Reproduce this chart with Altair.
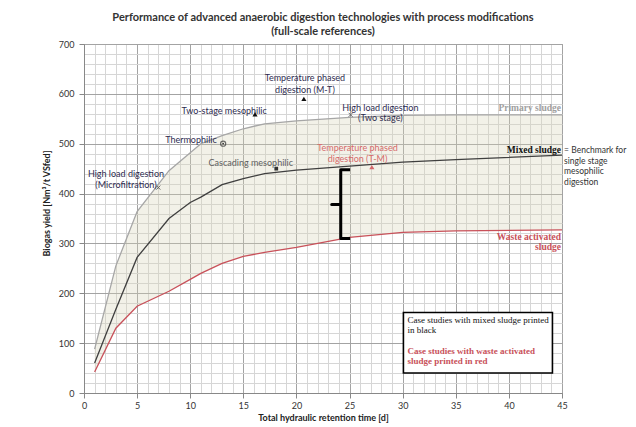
import altair as alt
import pandas as pd

# ---------------- data ----------------
days = [1, 3, 5, 8, 10, 11, 13, 15, 17, 20, 25, 30, 35, 45]
primary = [88, 255, 364, 446, 482, 500, 516, 530, 540, 546, 553, 557, 558, 558]
mixed = [60, 168, 272, 350, 382, 393, 418, 430, 440, 447, 455, 463, 468, 477]
was = [42, 130, 174, 204, 228, 240, 260, 274, 282, 292, 312, 322, 325, 327]

x_ticks = list(range(0, 46))
y_ticks = list(range(0, 701, 20))

# case-study markers
cross_x, cross_y = [7.0, 25.1], [412, 558]
circle_x, circle_y = [13.1], [500]
tri_x, tri_y = [16.1, 20.7], [559, 590]
square_x, square_y = [18.1], [450]
tri_red_x, tri_red_y = [27.1], [453]

# annotation labels
tech_text = ["High load digestion", "(Microfiltration)", "Thermophilic",
             "Two-stage mesophilic", "Temperature phased", "digestion (M-T)",
             "High load digestion", "(Two stage)"]
tech_x = [3.95, 3.95, 12.5, 13.2, 20.8, 20.8, 27.9, 27.9]
tech_y = [440, 418, 508, 566, 631, 608, 572, 552]
tech_align = ["center", "center", "right", "center", "center", "center", "center", "center"]

casc_text, casc_x, casc_y = ["Cascading mesophilic"], [15.7], [462]
tm_text = ["Temperature phased", "digestion (T-M)"]
tm_x, tm_y = [25.75, 25.75], [491, 470]

sludge_text = ["Primary sludge", "Mixed sludge", "Waste activated", "sludge"]
sludge_y = [572, 488, 313, 293]
sludge_col = ["primary", "mixed", "was", "was"]

bench_text = ["= Benchmark for", "single stage", "mesophilic", "digestion"]
bench_y = [487, 466, 445, 424]

box_x, box_x2, box_y, box_y2 = [30.07], [44.1], [40], [161.4]
box_text = ["Case studies with mixed sludge printed", "in black",
            "Case studies with waste activated", "sludge printed in red"]
box_text_y = [146.6, 126, 84.6, 64]
box_text_col = ["black", "black", "red", "red"]

brace_x = [25.05, 24.17, 24.17, 23.32, 24.17, 24.17, 25.05]
brace_y = [448, 448, 378, 378, 378, 310, 310]

# ---------------- styling ----------------
GRAY_LINE = "#a6a6a6"
DARK_LINE = "#3f3f3f"
RED = "#c8515a"
SANS = "Lato"
SERIF = "Liberation Serif"

xs = alt.Scale(domain=[0, 45], nice=False, zero=False)
ys = alt.Scale(domain=[0, 700], nice=False)

x_axis = alt.Axis(
    values=x_ticks, grid=True,
    gridColor={"condition": {"test": "datum.value % 5 === 0", "value": "#a3a3a3"}, "value": "#d6d6d6"},
    gridWidth=1,
    labelExpr="datum.value % 5 === 0 ? datum.label : ''",
    tickOpacity={"condition": {"test": "datum.value % 5 === 0", "value": 1}, "value": 0},
    tickColor="#888", tickSize=5, domainColor="#888",
    labelFont=SANS, labelFontSize=9, labelColor="#333", labelPadding=3,
    titleFont=SANS, titleFontSize=9, titleFontWeight="bold", titleColor="#222", titlePadding=3,
    labelFlush=False,
)
y_axis = alt.Axis(
    values=y_ticks, grid=True,
    gridColor={"condition": {"test": "datum.value % 100 === 0", "value": "#a3a3a3"}, "value": "#d6d6d6"},
    gridWidth=1,
    labelExpr="datum.value % 100 === 0 ? datum.label : ''",
    tickOpacity={"condition": {"test": "datum.value % 100 === 0", "value": 1}, "value": 0},
    tickColor="#888", tickSize=5, domainColor="#888",
    labelFont=SANS, labelFontSize=9, labelColor="#333", labelPadding=5,
    titleFont=SANS, titleFontSize=9, titleFontWeight="bold", titleColor="#222",
    titleX=-38, titleY=159, titleAngle=270, titleAlign="center", titleBaseline="middle",
)
XT = "Total hydraulic retention time [d]"
YT = "Biogas yield [Nm³/t VSfed]"


def X(field="x"):
    return alt.X(f"{field}:Q", scale=xs, axis=x_axis, title=XT)


def Y(field="y"):
    return alt.Y(f"{field}:Q", scale=ys, axis=y_axis, title=YT)


wide = pd.DataFrame({"x": days, "y": primary, "y2": was})
area = alt.Chart(wide).mark_area(color="#d7d4b9", opacity=0.32).encode(
    x=X(), y=Y(), y2="y2:Q")

long_rows = []
for name, vals in [("primary", primary), ("mixed", mixed), ("was", was)]:
    for d, v in zip(days, vals):
        long_rows.append({"x": d, "y": v, "series": name})
long = pd.DataFrame(long_rows)
lines = alt.Chart(long).mark_line(strokeWidth=1.3).encode(
    x=X(), y=Y(),
    color=alt.Color("series:N", scale=alt.Scale(domain=["primary", "mixed", "was"],
                                                range=[GRAY_LINE, DARK_LINE, RED]), legend=None),
    detail="series:N")

cross_path = "M-1,-1L1,1M-1,1L1,-1"
crosses = alt.Chart(pd.DataFrame({"x": cross_x, "y": cross_y})).mark_point(
    shape=cross_path, size=16, color="#333", strokeWidth=1, filled=False).encode(x=X(), y=Y())
circles = alt.Chart(pd.DataFrame({"x": circle_x, "y": circle_y})).mark_point(
    shape="circle", size=26, color="#333", strokeWidth=1.2, filled=False).encode(x=X(), y=Y())
circle_dot = alt.Chart(pd.DataFrame({"x": circle_x, "y": circle_y})).mark_point(
    shape="circle", size=3, color="#333", filled=True, opacity=1).encode(x=X(), y=Y())
tris = alt.Chart(pd.DataFrame({"x": tri_x, "y": tri_y})).mark_point(
    shape="triangle-up", size=26, color="#111", filled=True, opacity=1).encode(x=X(), y=Y())
squares = alt.Chart(pd.DataFrame({"x": square_x, "y": square_y})).mark_point(
    shape="square", size=14, color="#333", filled=True, opacity=1).encode(x=X(), y=Y())
tri_red = alt.Chart(pd.DataFrame({"x": tri_red_x, "y": tri_red_y})).mark_point(
    shape="triangle-up", size=26, color="#d4686c", filled=True, opacity=1).encode(x=X(), y=Y())

tech_df = pd.DataFrame({"x": tech_x, "y": tech_y, "t": tech_text, "a": tech_align})
tech_c = alt.Chart(tech_df[tech_df.a == "center"]).mark_text(
    font=SANS, fontSize=9, color="#2e2b4f", baseline="middle", align="center").encode(
    x=X(), y=Y(), text="t:N")
tech_r = alt.Chart(tech_df[tech_df.a == "right"]).mark_text(
    font=SANS, fontSize=9, color="#2e2b4f", baseline="middle", align="right").encode(
    x=X(), y=Y(), text="t:N")
casc = alt.Chart(pd.DataFrame({"x": casc_x, "y": casc_y, "t": casc_text})).mark_text(
    font=SANS, fontSize=9, color="#606060", baseline="middle").encode(x=X(), y=Y(), text="t:N")
tm = alt.Chart(pd.DataFrame({"x": tm_x, "y": tm_y, "t": tm_text})).mark_text(
    font=SANS, fontSize=9, color="#d56a6a", baseline="middle").encode(x=X(), y=Y(), text="t:N")

sludge = alt.Chart(pd.DataFrame({"x": [44.9] * 4, "y": sludge_y, "t": sludge_text, "s": sludge_col})).mark_text(
    font=SERIF, fontSize=9.5, fontWeight="bold", align="right", baseline="middle").encode(
    x=X(), y=Y(), text="t:N",
    color=alt.Color("s:N", scale=alt.Scale(domain=["primary", "mixed", "was"],
                                           range=["#a0a0a0", "#111111", RED]), legend=None))

bench = alt.Chart(pd.DataFrame({"x": [45.2] * 4, "y": bench_y, "t": bench_text})).mark_text(
    font=SANS, fontSize=8.5, color="#333", align="left", baseline="middle").encode(x=X(), y=Y(), text="t:N")

box = alt.Chart(pd.DataFrame({"x": box_x, "x2": box_x2, "y": box_y, "y2": box_y2})).mark_rect(
    fill="white", stroke="black", strokeWidth=1.6).encode(x=X(), x2="x2:Q", y=Y(), y2="y2:Q")
box_df = pd.DataFrame({"x": [30.45] * 4, "y": box_text_y, "t": box_text, "c": box_text_col})
box_black = alt.Chart(box_df[box_df.c == "black"]).mark_text(
    font=SERIF, fontSize=9, align="left", baseline="middle", color="#111111").encode(
    x=X(), y=Y(), text="t:N")
box_red = alt.Chart(box_df[box_df.c == "red"]).mark_text(
    font=SERIF, fontSize=9, fontWeight="bold", align="left", baseline="middle", color=RED).encode(
    x=X(), y=Y(), text="t:N")

brace = alt.Chart(pd.DataFrame({"x": brace_x, "y": brace_y, "o": list(range(len(brace_x)))})).mark_line(
    color="black", strokeWidth=3, strokeJoin="round").encode(x=X(), y=Y(), order="o:Q")

chart = alt.layer(
    area, lines, brace, crosses, circles, circle_dot, tris, squares, tri_red,
    tech_c, tech_r, casc, tm, sludge, bench, box, box_black, box_red
).properties(
    width=478, height=349,
    autosize=alt.AutoSizeParams(type="none"),
    padding={"left": 76, "top": 36, "right": 66, "bottom": 31},
    title=alt.TitleParams(
        text=["Performance of advanced anaerobic digestion technologies  with process modifications",
              "(full-scale references)"],
        font=SANS, fontSize=11, fontWeight="bold", color="#333", anchor="middle",
        frame="group", lineHeight=14, offset=3),
).resolve_scale(color="independent").configure_view(stroke="#9a9a9a", strokeWidth=1)

chart.save("out.html", embed_options={"renderer": "svg", "actions": False})
